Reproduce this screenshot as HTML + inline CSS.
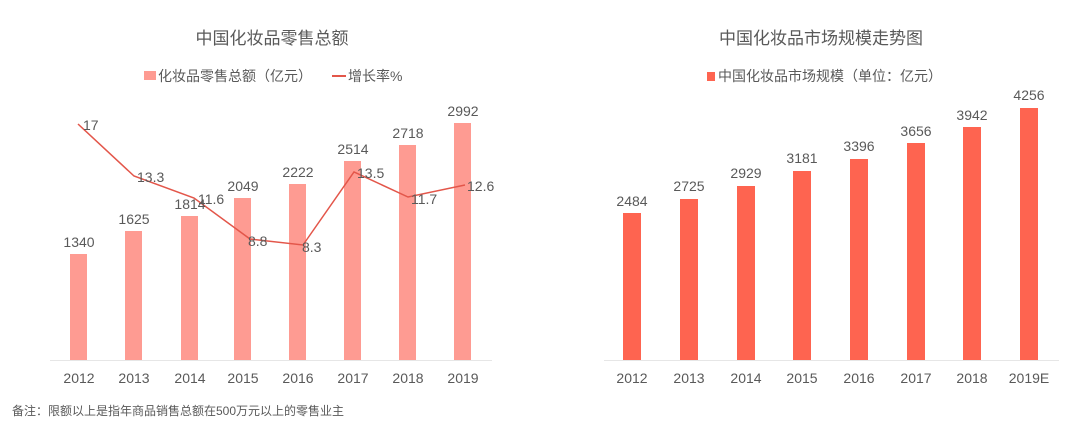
<!DOCTYPE html>
<html><head><meta charset="utf-8"><style>
body{margin:0;background:#fff;}
svg text{font-family:"Liberation Sans","Noto Sans CJK SC",sans-serif;fill:#595959;}
</style></head><body>
<svg width="1080" height="425" xmlns="http://www.w3.org/2000/svg">
<rect width="1080" height="425" fill="#fff"/>
<!-- Left chart -->
<text x="272" y="44" font-size="17" text-anchor="middle">中国化妆品零售总额</text>
<rect x="144" y="71" width="12" height="9" fill="#fe9b92"/>
<text x="158" y="81" font-size="14">化妆品零售总额（亿元）</text>
<line x1="332" y1="76" x2="346" y2="76" stroke="#e3564a" stroke-width="2"/>
<text x="348" y="81" font-size="14">增长率%</text>
<line x1="50" y1="360.5" x2="492" y2="360.5" stroke="#e6e6e6" stroke-width="1"/>
<g fill="#fe9b92">
<rect x="70" y="254" width="17" height="106"/>
<rect x="125" y="231" width="17" height="129"/>
<rect x="181" y="216" width="17" height="144"/>
<rect x="234" y="198" width="17" height="162"/>
<rect x="289" y="184" width="17" height="176"/>
<rect x="344" y="161" width="17" height="199"/>
<rect x="399" y="145" width="17" height="215"/>
<rect x="454" y="123" width="17" height="237"/>
</g>
<polyline points="78,124 134,176 194,198 250,239 303,245 354,172 408,197 465,185" fill="none" stroke="#e3564a" stroke-width="1.5"/>
<g font-size="14" text-anchor="middle">
<text x="79" y="247">1340</text><text x="134" y="224">1625</text><text x="190" y="209">1814</text>
<text x="243" y="191">2049</text><text x="298" y="177">2222</text><text x="353" y="154">2514</text>
<text x="408" y="138">2718</text><text x="463" y="116">2992</text>
</g>
<g font-size="14">
<text x="83" y="130">17</text><text x="137" y="182">13.3</text><text x="198" y="204">11.6</text>
<text x="248" y="246">8.8</text><text x="302" y="252">8.3</text><text x="357" y="178">13.5</text>
<text x="411" y="204">11.7</text><text x="467" y="191">12.6</text>
</g>
<g font-size="14" text-anchor="middle" fill="#666">
<text x="79" y="383">2012</text><text x="134" y="383">2013</text><text x="190" y="383">2014</text>
<text x="243" y="383">2015</text><text x="298" y="383">2016</text><text x="353" y="383">2017</text>
<text x="408" y="383">2018</text><text x="463" y="383">2019</text>
</g>
<text x="12" y="415" font-size="12">备注：限额以上是指年商品销售总额在500万元以上的零售业主</text>
<!-- Right chart -->
<text x="821" y="44" font-size="17" text-anchor="middle">中国化妆品市场规模走势图</text>
<rect x="707" y="72" width="8" height="9" fill="#fe6450"/>
<text x="718" y="81" font-size="14">中国化妆品市场规模（单位：亿元）</text>
<line x1="604" y1="360.5" x2="1059" y2="360.5" stroke="#e6e6e6" stroke-width="1"/>
<g fill="#fe6450">
<rect x="623" y="213" width="18" height="147"/>
<rect x="680" y="199" width="18" height="161"/>
<rect x="737" y="186" width="18" height="174"/>
<rect x="793" y="171" width="18" height="189"/>
<rect x="850" y="159" width="18" height="201"/>
<rect x="907" y="143" width="18" height="217"/>
<rect x="963" y="127" width="18" height="233"/>
<rect x="1020" y="108" width="18" height="252"/>
</g>
<g font-size="14" text-anchor="middle">
<text x="632" y="206">2484</text><text x="689" y="191">2725</text><text x="746" y="178">2929</text>
<text x="802" y="163">3181</text><text x="859" y="151">3396</text><text x="916" y="136">3656</text>
<text x="972" y="120">3942</text><text x="1029" y="100">4256</text>
</g>
<g font-size="14" text-anchor="middle" fill="#666">
<text x="632" y="383">2012</text><text x="689" y="383">2013</text><text x="746" y="383">2014</text>
<text x="802" y="383">2015</text><text x="859" y="383">2016</text><text x="916" y="383">2017</text>
<text x="972" y="383">2018</text><text x="1029" y="383">2019E</text>
</g>
</svg>
</body></html>
